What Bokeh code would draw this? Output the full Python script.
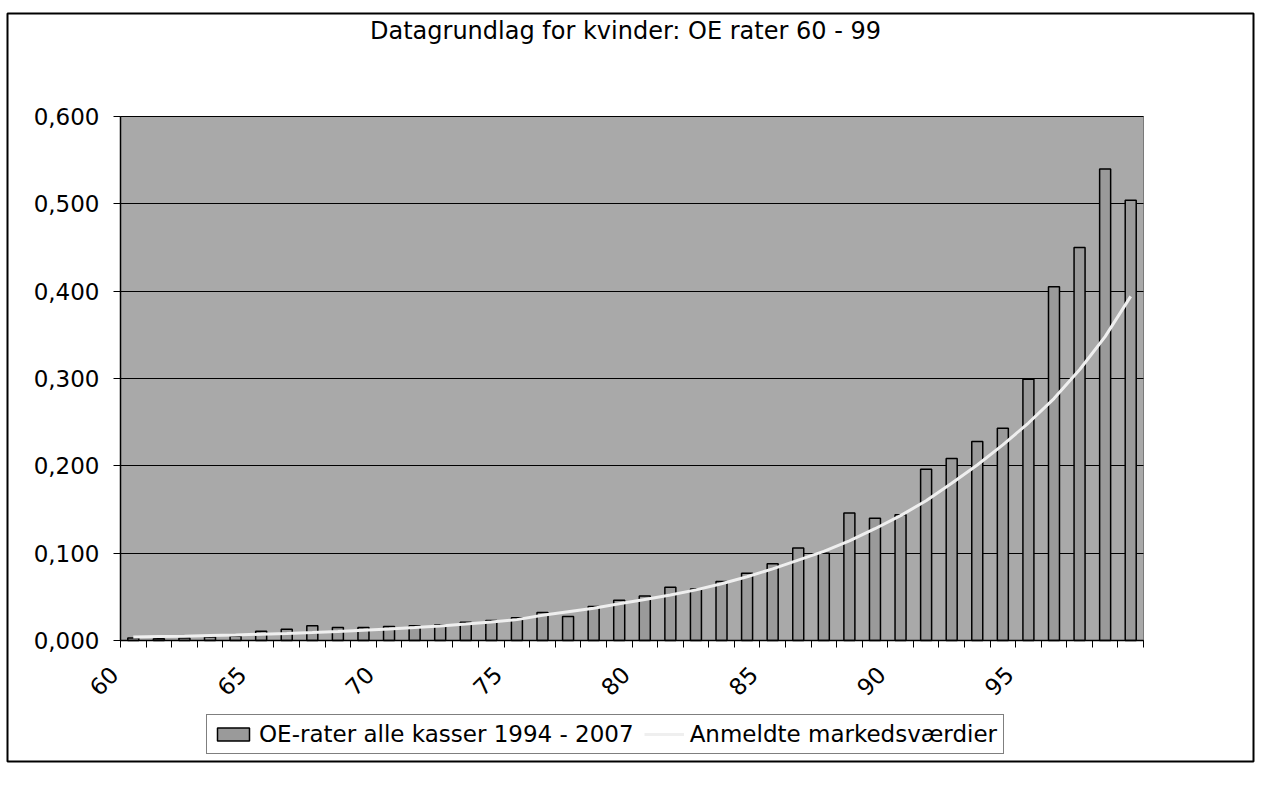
import math
from bokeh.plotting import figure
from bokeh.models import (Range1d, FixedTicker, CustomJSTickFormatter, Legend,
                          LegendItem, ColumnDataSource, LinearAxis, Label)
from bokeh.embed import file_html
from bokeh.resources import INLINE

# ---- data ----
ages = list(range(60, 100))
oe_rates = [0.003, 0.002, 0.003, 0.004, 0.005, 0.0105, 0.013, 0.017, 0.015, 0.015,
            0.016, 0.017, 0.018, 0.021, 0.023, 0.026, 0.032, 0.0275, 0.039, 0.046,
            0.051, 0.061, 0.059, 0.0676, 0.077, 0.088, 0.106, 0.100, 0.146, 0.140,
            0.144, 0.196, 0.2085, 0.228, 0.243, 0.299, 0.405, 0.450, 0.540, 0.504]
market_values = [0.0040, 0.0045, 0.0050, 0.0057, 0.0064, 0.0072, 0.0081, 0.0091, 0.0103, 0.0116,
                 0.0131, 0.0148, 0.0167, 0.0188, 0.0212, 0.0239, 0.0290, 0.0330, 0.0370, 0.0420,
                 0.0470, 0.0520, 0.0580, 0.0650, 0.0730, 0.0820, 0.0920, 0.1020, 0.1140, 0.1280,
                 0.1430, 0.1600, 0.1800, 0.2010, 0.2240, 0.2490, 0.2770, 0.3100, 0.3480, 0.3940]
x_tick_labels = [60, 65, 70, 75, 80, 85, 90, 95]
y_ticks = [0.0, 0.1, 0.2, 0.3, 0.4, 0.5, 0.6]

title_text = "Datagrundlag for kvinder: OE rater 60 - 99"
bar_label = "OE-rater alle kasser 1994 - 2007"
line_label = "Anmeldte markedsværdier"

# ---- layout (pixels of the reference) ----
FONT = "DejaVu Sans"
BOX_L, BOX_T, BOX_R, BOX_B = 7, 13, 1253, 761      # outer chart border
PLOT_L, PLOT_T, PLOT_R, PLOT_B = 120, 116, 1143, 640  # plot area
LEG_L, LEG_B = 206, 754                             # legend box left / bottom
TITLE_X, TITLE_Y = 625, 30
LABEL_SHIFT = 0.75   # Excel puts rotated category labels left of the category centre

x0, x1 = ages[0] - 0.5, ages[-1] + 0.5
y0, y1 = y_ticks[0], y_ticks[-1]
kx = (PLOT_R - PLOT_L) / (x1 - x0)
ky = (PLOT_B - PLOT_T) / (y1 - y0)


def px_x(px):
    return x0 + (px - PLOT_L) / kx


def px_y(py):
    return y0 + (PLOT_B - py) / ky


W, H = BOX_R + 3, BOX_B + 3
src = ColumnDataSource(dict(age=ages, oe=oe_rates, mv=market_values))

p = figure(width=W, height=H, output_backend="svg", toolbar_location=None,
           x_range=Range1d(px_x(BOX_L), px_x(BOX_R)),
           y_range=Range1d(px_y(BOX_B), px_y(BOX_T)),
           min_border_left=BOX_L, min_border_right=W - BOX_R,
           min_border_top=BOX_T, min_border_bottom=H - BOX_B)
p.title.visible = False
p.background_fill_color = "white"
p.border_fill_color = "white"
p.outline_line_color = "black"
p.outline_line_width = 2

# plot-area background
p.quad(left=[x0], right=[x1], bottom=[y0], top=[y1], level="image",
       fill_color="#a9a9a9", line_color="#7a7a7a", line_width=1)

# grid lines limited to the plot area
p.xgrid.visible = False
p.ygrid.ticker = FixedTicker(ticks=y_ticks)
p.ygrid.bounds = (y0, y1)
p.ygrid.cross_bounds = (x0, x1)
p.ygrid.grid_line_color = "black"
p.ygrid.grid_line_width = 1

# ---- x axis (line + category separator ticks) ----
xa = p.xaxis[0]
xa.fixed_location = y0
xa.bounds = (x0, x1)
xa.ticker = FixedTicker(ticks=[], minor_ticks=[a - 0.5 for a in ages] + [x1])
xa.axis_line_color = "black"
xa.axis_line_width = 1.5
xa.major_tick_out = 0
xa.major_tick_in = 0
xa.minor_tick_out = 7
xa.minor_tick_in = 0
xa.minor_tick_line_color = "black"

# ---- x labels every 5 years ----
label_pos = [a - LABEL_SHIFT for a in x_tick_labels]
xl = LinearAxis(fixed_location=y0,
                ticker=FixedTicker(ticks=label_pos),
                major_label_overrides={pos: str(a) for pos, a in zip(label_pos, x_tick_labels)},
                axis_line_color=None, major_tick_line_color=None,
                minor_tick_line_color=None, major_tick_out=0, major_tick_in=0,
                major_label_orientation=math.pi / 4, major_label_standoff=30,
                major_label_text_font=FONT, major_label_text_font_size="23px",
                major_label_text_color="black")
p.add_layout(xl, "below")

# ---- y axis ----
ya = p.yaxis[0]
ya.fixed_location = x0
ya.bounds = (y0, y1)
ya.ticker = FixedTicker(ticks=y_ticks)
ya.formatter = CustomJSTickFormatter(code="return tick.toFixed(3).replace('.', ',');")
ya.axis_line_color = "black"
ya.axis_line_width = 1.5
ya.major_tick_out = 7
ya.major_tick_in = 0
ya.major_tick_line_color = "black"
ya.minor_tick_line_color = None
ya.major_label_standoff = 14
ya.major_label_text_font = FONT
ya.major_label_text_font_size = "23px"
ya.major_label_text_color = "black"

# ---- data ----
bars = p.vbar(x="age", top="oe", width=0.43, source=src,
              fill_color="#9a9a9a", line_color="black", line_width=1.5)
line = p.line(x="age", y="mv", source=src, line_color="#efefef", line_width=3)

# ---- title ----
p.add_layout(Label(x=px_x(TITLE_X), y=px_y(TITLE_Y), text=title_text,
                   text_align="center", text_baseline="middle",
                   text_font=FONT, text_font_size="24px", text_color="black"))

# ---- legend ----
legend = Legend(items=[LegendItem(label=bar_label, renderers=[bars]),
                       LegendItem(label=line_label, renderers=[line])],
                orientation="horizontal", location=(LEG_L - BOX_L, BOX_B - LEG_B),
                border_line_color="black", border_line_width=1.5,
                background_fill_color="white", background_fill_alpha=1,
                label_text_font=FONT, label_text_font_size="23px",
                label_text_color="black",
                glyph_width=40, glyph_height=16, padding=6, spacing=10,
                label_standoff=6, margin=0)
p.add_layout(legend, "center")

open("out.html", "w").write(file_html(p, INLINE))
